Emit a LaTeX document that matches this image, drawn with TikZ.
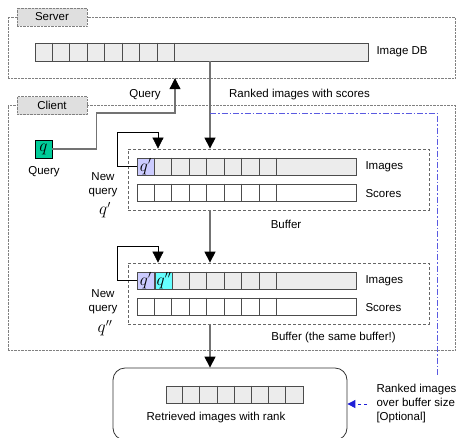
\documentclass[tikz,border=0pt]{standalone}
\usepackage{fontspec}
\setmainfont{Liberation Sans}
\usetikzlibrary{arrows.meta,positioning}
\definecolor{qgreen}{RGB}{0,204,153}
\definecolor{qlav}{RGB}{204,204,255}
\definecolor{qcyan}{RGB}{102,255,255}
\definecolor{optblue}{RGB}{90,90,225}
\definecolor{arrblue}{RGB}{30,30,215}
\newcommand{\qmath}[1]{{\fontsize{16}{16}\selectfont$#1$}}

\begin{document}
\begin{tikzpicture}[
      x=1pt, y=-1pt,
      font=\fontsize{11.5}{14}\selectfont,
      zone/.style={draw=gray, densely dotted, thin},
      tab/.style={draw=gray, densely dotted, fill=gray!25,
        minimum width=70, minimum height=18, inner sep=0},
      buffer/.style={draw=gray!80!black, dash pattern=on 3pt off 2pt, line width=0.8pt},
      bar/.style={draw=gray!60!black, fill=gray!15, inner sep=0, minimum height=17, line width=0.8pt},
      sep/.style={draw=gray!60!black, line width=0.8pt},
      qcell/.style={draw=gray!60!black, inner sep=0, minimum width=17.5, minimum height=17, line width=0.8pt},
      qbox/.style={draw=black, inner sep=0, minimum width=17.5, minimum height=18},
      link/.style={draw=gray!90!black, line width=1.1pt,
        -{Triangle[width=11pt,length=11pt,color=black]}},
      loopline/.style={draw=black, line width=0.7pt, -{Triangle[width=11pt,length=11pt]}},
      optline/.style={draw=optblue, dash pattern=on 6pt off 2pt on 1.5pt off 2pt, line width=0.9pt},
      optarrow/.style={draw=arrblue, dashed, line width=0.9pt, -{Triangle[width=8pt,length=8pt]}},
      resbox/.style={draw=black!80, rounded corners=12pt, line width=0.8pt}
    ]
    \useasboundingbox (0,0) rectangle (462,437);
    \clip (0,0) rectangle (462,437);

    % server
    \node (server) [zone, minimum width=447, minimum height=61] at (231.5,47.5) {};
    \node (servertab) [tab] at (52,17) {Server};
    \node (db) [bar, minimum width=333, minimum height=18] at (201.5,52) {};
    \foreach \i in {1,...,8}
      \draw[sep] ([xshift=\i*17.5]db.north west) -- ([xshift=\i*17.5]db.south west);
    \node (dblbl) [anchor=west] at (373,52) {Image DB};

    % client
    \node (client) [zone, minimum width=447, minimum height=245] at (231.5,227.5) {};
    \node (clienttab) [tab] at (52,105.5) {Client};
    \node (q) [qbox, fill=qgreen] at (43.5,149) {\qmath{q}};
    \node (qlbl) at (44,172) {Query};

    % first buffer
    \node (buf1) [buffer, minimum width=301, minimum height=61] at (278.5,179.5) {};
    \node (img1) [bar, minimum width=219] at (246.5,166.5) {};
    \node (sco1) [bar, fill=white, minimum width=219] at (246.5,192.5) {};
    \foreach \i in {1,...,8} {
      \draw[sep] ([xshift=\i*17.5]img1.north west) -- ([xshift=\i*17.5]img1.south west);
      \draw[sep] ([xshift=\i*17.5]sco1.north west) -- ([xshift=\i*17.5]sco1.south west);
    }
    \node (qa1) [qcell, fill=qlav, anchor=north west] at (img1.north west) {\qmath{q'}};
    \node (imglbl1) [anchor=west] at (362,167) {Images};
    \node (scolbl1) [anchor=west] at (362,194) {Scores};
    \node (buflbl1) at (286,224) {Buffer};
    \node (new1) [align=center] at (103,185) {New\\query};
    \node (newq1) at (105,210) {\qmath{q'}};

    % second buffer
    \node (buf2) [buffer, minimum width=301, minimum height=61] at (278.5,293.5) {};
    \node (img2) [bar, minimum width=219] at (246.5,280.5) {};
    \node (sco2) [bar, fill=white, minimum width=219] at (246.5,306.5) {};
    \foreach \i in {1,...,8} {
      \draw[sep] ([xshift=\i*17.5]img2.north west) -- ([xshift=\i*17.5]img2.south west);
      \draw[sep] ([xshift=\i*17.5]sco2.north west) -- ([xshift=\i*17.5]sco2.south west);
    }
    \node (qa2) [qcell, fill=qlav, anchor=north west] at (img2.north west) {\qmath{q'}};
    \node (qb2) [qcell, fill=qcyan, right=0pt of qa2] {\qmath{q''}};
    \node (imglbl2) [anchor=west] at (362,281) {Images};
    \node (scolbl2) [anchor=west] at (362,308) {Scores};
    \node (buflbl2) at (333.5,338) {Buffer (the same buffer!)};
    \node (new2) [align=center] at (103,302) {New\\query};
    \node (newq2) at (105,328) {\qmath{q''}};

    % result
    \node (result) [resbox, minimum width=234, minimum height=72] at (230,404) {};
    \node (resbar) [bar, minimum width=137] at (234.5,394.5) {};
    \foreach \i in {1,...,7}
      \draw[sep] ([xshift=\i*17.125]resbar.north west) -- ([xshift=\i*17.125]resbar.south west);
    \node (reslbl) at (216,418) {Retrieved images with rank};
    \node (optlbl) [anchor=west, align=left] at (373,404) {Ranked images\\over buffer size\\{[Optional]}};

    % connectors
    \coordinate (rk) at (210,0);
    \coordinate (qup) at (175,113);
    \coordinate (lp) at (158,0);
    \coordinate (split) at (210,113);
    \coordinate (optend) at (437,376);
    \node (querylbl) at (145,95) {Query};
    \node (ranklbl) at (299.5,95) {Ranked images with scores};
    \draw[link] (q.east) -| ++(44,-36) -| (server.south -| qup);
    \draw[link] (db.south -| rk) -- (buf1.north -| rk);
    \draw[link] (buf1.south -| rk) -- (buf2.north -| rk);
    \draw[link] (buf2.south -| rk) -- (result.north -| rk);
    \draw[loopline] (img1.west) -| ++(-19,-34.5) -| (buf1.north -| lp);
    \draw[loopline] (img2.west) -| ++(-19,-34.5) -| (buf2.north -| lp);
    \draw[optline] (split) -| (optend);
    \draw[optarrow] ([xshift=-6]optlbl.west) -- (result.east |- optlbl.west);
  \end{tikzpicture}
\end{document}
